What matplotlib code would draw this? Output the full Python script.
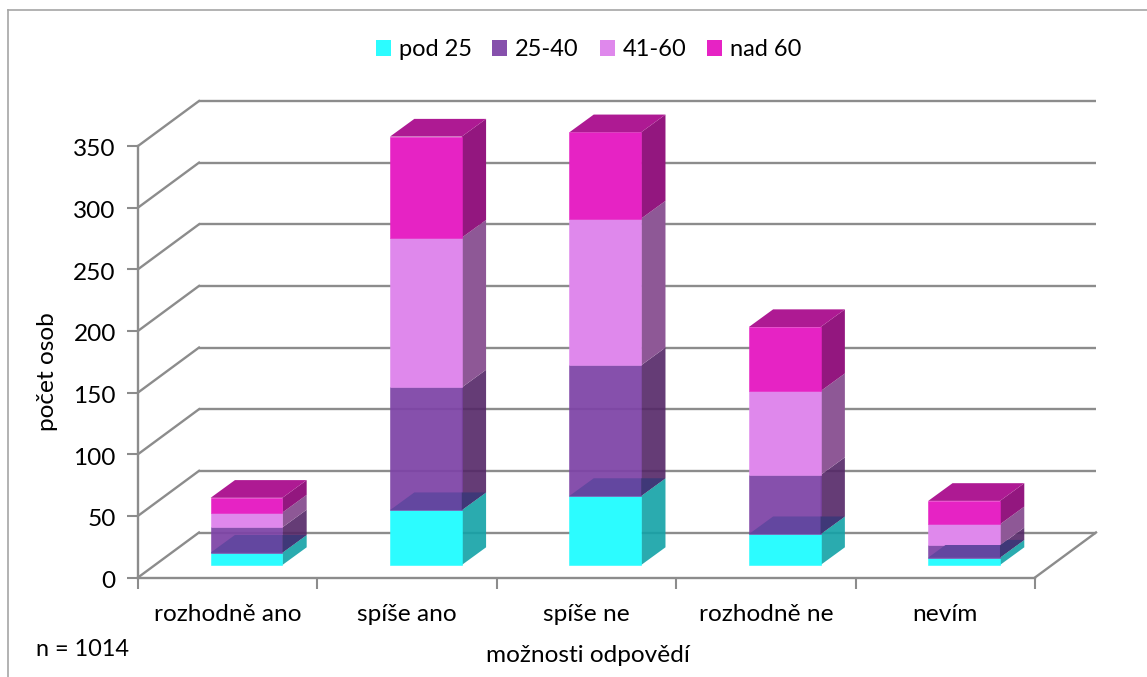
import matplotlib
matplotlib.use('Agg')
import matplotlib.pyplot as plt
from matplotlib.lines import Line2D
from matplotlib.patches import Patch, Polygon
from matplotlib.transforms import Affine2D, IdentityTransform

plt.rcParams['font.family'] = ['Lato', 'DejaVu Sans']

# data
categories = ['rozhodně ano', 'spíše ano', 'spíše ne', 'rozhodně ne', 'nevím']
series_names = ['pod 25', '25-40', '41-60', 'nad 60']
pod_25 = [10, 44.5, 56, 25, 6]
s_25_40 = [20.5, 99.5, 106, 48, 10]
s_41_60 = [12, 121.5, 119, 68, 17]
nad_60 = [12, 82, 70, 52, 19]
y_ticks = [0, 50, 100, 150, 200, 250, 300, 350]

legend_cols = ['#2CFCFF', '#8650AC', '#DF88EC', '#E623C4']
# purple front and the two lower side faces are slightly see-through
front_cols = ['#2CFCFF', '#7D43A6', '#DF88EC', '#E623C4']
side_cols = ['#13A2A7', '#542767', '#8E5896', '#93177F']
top_col = '#AE1A93'
through_front = '#6347A0'
through_side = '#3F3878'
grey = '#8C8C8C'
fs = 17.6

W, H = 1147, 677
fig = plt.figure(figsize=(W / 100, H / 100), dpi=100)
ax = fig.add_axes([138 / W, (H - 577.5) / H, 897 / W, 431.5 / H])
ax.set_xlim(0, 5)
ax.set_ylim(0, 350)
ax.patch.set_visible(False)
px = IdentityTransform()


# oblique projection, offsets in pixels
def shifted(dx, dy):
    return ax.transData + Affine2D().translate(dx, dy)


# walls
wall_dx, wall_dy = 61, 45
back = shifted(wall_dx, wall_dy)
for v in y_ticks:
    ax.plot([0, 5], [v, v], transform=back, color=grey, lw=1.7, clip_on=False, zorder=1,
            solid_capstyle='butt')
    # diagonal from the axis to the back wall, in pixels
    x0, y0 = ax.transData.transform((0, v))
    ax.add_artist(Line2D([x0, x0 + wall_dx], [y0, y0 + wall_dy], transform=px,
                         color=grey, lw=1.7, zorder=1, clip_on=False))
x0, y0 = ax.transData.transform((5, 0))
ax.add_artist(Line2D([x0, x0 + wall_dx], [y0, y0 + wall_dy], transform=px,
                     color=grey, lw=1.7, zorder=1, clip_on=False))

for s in ['top', 'right']:
    ax.spines[s].set_visible(False)
for s in ['left', 'bottom']:
    ax.spines[s].set_color(grey)
    ax.spines[s].set_linewidth(1.7)

# bars
bar_w = 0.4
off_x, off_y = 18.8, 12.5
depth_x, depth_y = 24.3, 17.7
data = [pod_25, s_25_40, s_41_60, nad_60]
tr_front = shifted(off_x, off_y)
tr_back = shifted(off_x + depth_x, off_y + depth_y)


def to_px(x, y, tr):
    return tuple(tr.transform((x, y)))


for i in range(len(categories)):
    left, right = i + 0.5 - bar_w / 2, i + 0.5 + bar_w / 2
    bottom = 0
    faces = []
    for k in range(4):
        top = bottom + data[k][i]
        front_poly = [to_px(left, bottom, tr_front), to_px(right, bottom, tr_front),
                      to_px(right, top, tr_front), to_px(left, top, tr_front)]
        side_poly = [to_px(right, bottom, tr_front), to_px(right, bottom, tr_back),
                     to_px(right, top, tr_back), to_px(right, top, tr_front)]
        side = Polygon(side_poly, transform=px, fc=side_cols[k], ec='none',
                       alpha=0.9 if k < 2 else 1, zorder=3, clip_on=False)
        front = Polygon(front_poly, transform=px, fc=front_cols[k], ec=front_cols[k], lw=0.4,
                        alpha=0.93 if k == 1 else 1, zorder=3, clip_on=False)
        ax.add_artist(side)
        ax.add_artist(front)
        faces.append((front, side))
        bottom = top
    # top of the whole stack
    ax.add_artist(Polygon([to_px(left, bottom, tr_front), to_px(right, bottom, tr_front),
                           to_px(right, bottom, tr_back), to_px(left, bottom, tr_back)],
                          transform=px, fc=top_col, ec='none', zorder=3, clip_on=False))
    # cyan top seen through the purple segment
    c = pod_25[i]
    cyan_top = [to_px(left, c, tr_front), to_px(right, c, tr_front),
                to_px(right, c, tr_back), to_px(left, c, tr_back)]
    over_front = Polygon(cyan_top, transform=px, fc=through_front, ec='none', zorder=4)
    over_side = Polygon(cyan_top, transform=px, fc=through_side, ec='none', zorder=4)
    ax.add_artist(over_front)
    ax.add_artist(over_side)
    over_front.set_clip_path(faces[1][0])
    over_side.set_clip_path(faces[1][1])

# ticks and labels
ax.set_yticks(y_ticks)
ax.set_xticks(range(6))
ax.set_xticklabels([])
ax.set_xticks([i + 0.5 for i in range(5)], categories, minor=True)
ax.tick_params(axis='y', length=8, width=1.5, color=grey, labelsize=fs, pad=8)
ax.tick_params(axis='x', which='major', length=8, width=1.5, color=grey)
ax.tick_params(axis='x', which='minor', length=0, labelsize=fs, pad=19)
for lab in ax.get_yticklabels():
    lab.set_transform(lab.get_transform() + Affine2D().translate(0, -2))
ax.set_ylabel('počet osob', fontsize=fs)
ax.yaxis.set_label_coords((47 - 138) / 897, (577.5 - 372) / 431.5)
ax.yaxis.label.set_verticalalignment('center')
ax.set_xlabel('možnosti odpovědí', fontsize=fs)
ax.xaxis.set_label_coords((588 - 138) / 897, (577.5 - 655) / 431.5)
ax.xaxis.label.set_verticalalignment('center')

fig.text(36 / W, (H - 649) / H, 'n = 1014', fontsize=16.9, va='center', ha='left')

# legend
handles = [Patch(fc=c, ec='none', label=n) for c, n in zip(legend_cols, series_names)]
fig.legend(handles=handles, loc='center', bbox_to_anchor=(588.5 / W, (H - 50) / H), ncol=4,
           frameon=False, fontsize=17, handlelength=0.635, handleheight=0.635,
           handletextpad=0.34, columnspacing=0.87)

# chart border
border = dict(color='#A6A6A6', lw=1.2, transform=fig.transFigure)
fig.add_artist(Line2D([8 / W, 8 / W], [0, (H - 10) / H], **border))
fig.add_artist(Line2D([8 / W, 1], [(H - 10) / H, (H - 10) / H], **border))

fig.savefig('out.png', dpi=100)
